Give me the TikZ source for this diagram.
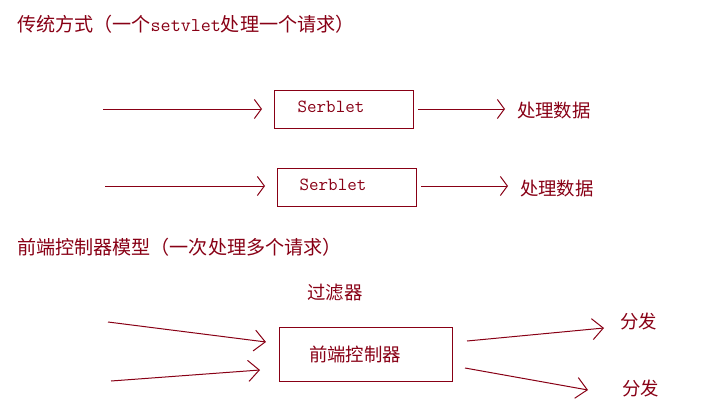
\documentclass[tikz,border=0pt]{standalone}
\usepackage{fontspec}
\usetikzlibrary{arrows.meta}
\newfontfamily\cjk{Noto Sans CJK SC}
\definecolor{ink}{RGB}{136,0,21}
\begin{document}
\begin{tikzpicture}[x=1pt,y=-1pt,
  every node/.style={inner sep=0pt,outer sep=0pt,text=ink},
  zh/.style={font=\cjk\fontsize{18.4}{21}\selectfont},
  heading/.style={font=\cjk\fontsize{19.1}{22}\selectfont},
  code/.style={font=\ttfamily\fontsize{18.5}{20}\selectfont},
  box/.style={draw=ink,line width=1pt,minimum width=139pt,minimum height=38pt},
  bigbox/.style={draw=ink,line width=1pt,minimum width=173pt,minimum height=54pt},
  arr/.style={draw=ink,line width=1pt,-{Straight Barb[length=7pt,width=19pt,line width=1pt]}},
  arrb/.style={draw=ink,line width=1pt,-{Straight Barb[length=11pt,width=21pt,line width=1pt]}}]
\useasboundingbox (0,0) rectangle (706,415);

% headings
\node[heading,anchor=west] (t1) at (17,24) {传统方式（一个{\ttfamily\fontsize{19.5}{22}\selectfont setvlet}处理一个请求）};
\node[heading,anchor=west] (t2) at (17,247) {前端控制器模型（一次处理多个请求）};

% traditional servlet rows
\node[box] (s1) at (343.5,109) {};
\node[code] at (331,107) {Serblet};
\node[zh,anchor=west] (o1) at (517,111) {处理数据};
\coordinate (i1) at (103,109);
\draw[arr] (i1) -- ([shift={(-12,0)}]s1.west);
\draw[arr] ([shift={(5,0)}]s1.east) -- ([shift={(-12,-2)}]o1.west);

\node[box] (s2) at (346.5,187) {};
\node[code] at (333,185) {Serblet};
\node[zh,anchor=west] (o2) at (520,189) {处理数据};
\coordinate (i2) at (105,186);
\draw[arr] (i2) -- ([shift={(-12,-1)}]s2.west);
\draw[arr] ([shift={(5,-1)}]s2.east) -- ([shift={(-12,-3)}]o2.west);

% front controller
\node[zh] (flt) at (335,293) {过滤器};
\node[bigbox] (fc) at (365.5,354) {};
\node[zh] at (355,354) {前端控制器};
\node[zh,anchor=west] (d1) at (620,321) {分发};
\node[zh,anchor=west] (d2) at (622,388) {分发};
\coordinate (r1) at (108,322);
\coordinate (r2) at (111,381);
\draw[arrb] (r1) -- ([shift={(-13,-12)}]fc.west);
\draw[arrb] (r2) -- ([shift={(-19,16)}]fc.west);
\draw[arrb] ([shift={(15,-13)}]fc.east) -- ([shift={(-16,7)}]d1.west);
\draw[arrb] ([shift={(13,14)}]fc.east) -- ([shift={(-34,2)}]d2.west);
\end{tikzpicture}
\end{document}
